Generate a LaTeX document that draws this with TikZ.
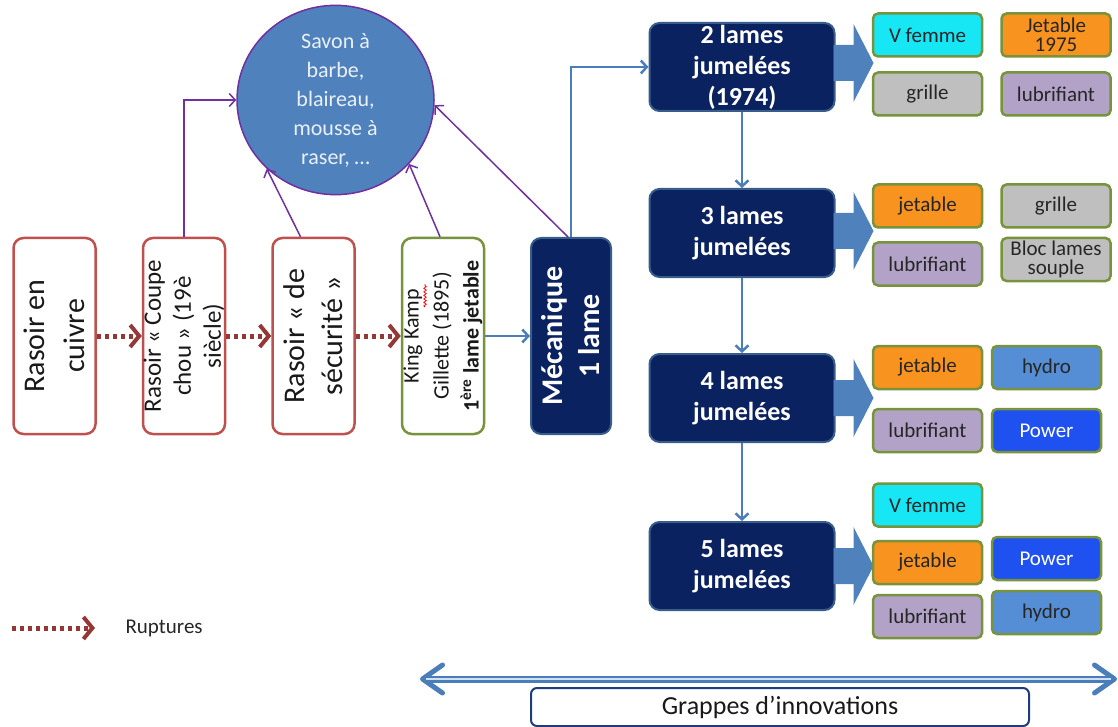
\documentclass[tikz,border=0pt]{standalone}
\usepackage{fontspec}
\setmainfont{Carlito}
\usetikzlibrary{arrows.meta,shapes.geometric,calc,decorations.pathmorphing}
\definecolor{cRed}{HTML}{C0504D}
\definecolor{cRupt}{HTML}{953735}
\definecolor{cGreen}{HTML}{77933C}
\definecolor{cNavy}{HTML}{0B2260}
\definecolor{cNavyB}{HTML}{385D8A}
\definecolor{cBlue}{HTML}{4F81BD}
\definecolor{cLine}{HTML}{4A7EBB}
\definecolor{cPurple}{HTML}{7030A0}
\definecolor{cCyan}{HTML}{17E6F5}
\definecolor{cOrange}{HTML}{F7931E}
\definecolor{cGray}{HTML}{BFBFBF}
\definecolor{cLav}{HTML}{B3A2C7}
\definecolor{cHydro}{HTML}{558ED5}
\definecolor{cPower}{HTML}{1F50F0}
\definecolor{cGrappe}{HTML}{1F3D7A}
\begin{document}
\begin{tikzpicture}[x=1pt,y=-1pt,
  vbox/.style={fill=white, rounded corners=10pt, line width=2.5pt, minimum width=82pt, minimum height=196pt, inner sep=0pt},
  redbox/.style={vbox, draw=cRed},
  greenbox/.style={vbox, draw=cGreen},
  navybox/.style={fill=cNavy, draw=cNavyB, line width=2pt, rounded corners=10pt, inner sep=0pt},
  lames/.style={navybox, minimum width=185pt, minimum height=88pt, text=white, font=\bfseries\fontsize{26}{31}\selectfont, align=center},
  vtext/.style={rotate=90, align=center, text=black!90},
  sbox/.style={draw=cGreen, line width=2.5pt, rounded corners=5pt, minimum width=109pt, minimum height=43pt, inner sep=1pt, font=\fontsize{21}{21}\selectfont, align=center, text=black!85},
  rupt/.style={draw=cRupt, line width=5pt, dash pattern=on 4pt off 4pt, -{Straight Barb[length=9pt,width=22pt,line width=4pt]}},
  barrow/.style={draw=cLine, line width=2.5pt, -{Straight Barb[length=6pt,width=13pt]}},
  parrow/.style={draw=cPurple, line width=1.5pt, -{Straight Barb[length=6pt,width=13pt]}},
  blk/.style={fill=cBlue}
]
\useasboundingbox (0,0) rectangle (1118,727);

% left chain of boxes
\node[redbox] (cuivre) at (54.5,336) {};
\node[vtext, font=\fontsize{30}{40}\selectfont] (cuivreT) at (cuivre.center) {Rasoir en\\cuivre};
\node[redbox] (coupe) at (184,336) {};
\node[vtext, font=\fontsize{25}{30}\selectfont] (coupeT) at (coupe.center) {Rasoir « Coupe\\chou » (19è\\siècle)};
\node[redbox] (secu) at (313.5,336) {};
\node[vtext, font=\fontsize{30}{38}\selectfont] (secuT) at (secu.center) {Rasoir « de\\sécurité »};
\node[greenbox] (gil) at (443,336) {};
\node[vtext, font=\fontsize{22}{30}\selectfont] (gilT) at (gil.center) {King Kamp\\Gillette (1895)\\\textbf{1\textsuperscript{ère} lame jetable}};
\draw[red, line width=0.8pt, decorate, decoration={snake, amplitude=1.2pt, segment length=3.5pt}] (425,307) -- (425,284);
\node[navybox, minimum width=80pt, minimum height=196pt] (mec) at (571,336) {};
\node[rotate=90, align=center, text=white, font=\bfseries\fontsize{30}{37}\selectfont] (mecT) at (mec.center) {Mécanique\\1 lame};

% ellipse
\node[ellipse, draw=cPurple, line width=1.5pt, fill=cBlue, minimum width=197pt, minimum height=176pt, inner sep=0pt,
  text=white!88!cBlue, align=center, font=\fontsize{22}{29}\selectfont] (ell) at (335.5,100) {Savon à\\barbe,\\blaireau,\\mousse à\\raser, \dots};

% ruptures
\draw[rupt] (cuivre.east) -- (coupe.west);
\draw[rupt] (coupe.east) -- (secu.west);
\draw[rupt] (secu.east) -- (gil.west);
\draw[barrow] (gil.east) -- (mec.west);

% purple arrows
\draw[parrow] (coupe.north) |- (ell.west);
\draw[parrow] ($(secu.north)+(-13,0)$) -- (ell.225);
\draw[parrow] ($(gil.north)+(-3,0)$) -- (ell.319);
\draw[parrow] ($(mec.north)+(-3,0)$) -- (ell.-3);

% lames boxes
\node[lames] (l2) at (742,67) {2 lames\\jumelées\\(1974)};
\node[lames] (l3) at (742,233) {3 lames\\jumelées};
\node[lames] (l4) at (742,398) {4 lames\\jumelées};
\node[lames] (l5) at (742,566) {5 lames\\jumelées};

\draw[barrow] (mec.north) |- (l2.west);
\draw[barrow] (l2.south) -- (l3.north);
\draw[barrow] (l3.south) -- (l4.north);
\draw[barrow] (l4.south) -- (l5.north);

% block arrows
\foreach \b/\dy in {l2/-4, l3/-2, l4/0, l5/0}{
  \fill[blk, shift={($(\b.east)+(-2,\dy)$)}] (0,-18) -- (20,-18) -- (20,-39) -- (40,0) -- (20,39) -- (20,18) -- (0,18) -- cycle;
}

% small boxes, 2 lames
\node[sbox, fill=cCyan] (a1) at (927.5,35) {V femme};
\node[sbox, fill=cOrange, font=\fontsize{21}{19}\selectfont] (a2) at (1056,35) {Jetable\\1975};
\node[sbox, fill=cGray] (a3) at (927.5,94) {grille};
\node[sbox, fill=cLav] (a4) at (1056,94) {lubrifiant};
% 3 lames
\node[sbox, fill=cOrange] (b1) at (927.5,206) {jetable};
\node[sbox, fill=cGray] (b2) at (1056,206) {grille};
\node[sbox, fill=cLav] (b3) at (927.5,264) {lubrifiant};
\node[sbox, fill=cGray, font=\fontsize{21}{19}\selectfont] (b4) at (1056,259.5) {Bloc lames\\souple};
% 4 lames
\node[sbox, fill=cOrange] (c1) at (927.5,367.5) {jetable};
\node[sbox, fill=cHydro] (c2) at (1046.5,367.5) {hydro};
\node[sbox, fill=cLav] (c3) at (927.5,430.5) {lubrifiant};
\node[sbox, fill=cPower, text=white] (c4) at (1046.5,430.5) {Power};
% 5 lames
\node[sbox, fill=cCyan] (d1) at (927.5,505) {V femme};
\node[sbox, fill=cOrange] (d2) at (927.5,562.5) {jetable};
\node[sbox, fill=cPower, text=white] (d3) at (1046.5,558.5) {Power};
\node[sbox, fill=cLav] (d4) at (927.5,616.5) {lubrifiant};
\node[sbox, fill=cHydro] (d5) at (1046.5,612.5) {hydro};

% legend
\coordinate (rs) at (12,628);
\coordinate (re) at (95,628);
\draw[rupt] (rs) -- (re);
\node[anchor=west, font=\fontsize{21}{21}\selectfont, text=black!85] (ruptT) at (122,628) {Ruptures};

% bottom double arrow
\coordinate (gl) at (420,679);
\coordinate (gr) at (1117,679);
\draw[draw=cLine, line width=7pt, {Straight Barb[length=20pt,width=28pt,line width=5pt,round]}-{Straight Barb[length=20pt,width=28pt,line width=5pt,round]}] (gl) -- (gr);
\draw[white!75!cLine, line width=2.5pt, shorten <=6pt, shorten >=6pt] (gl) -- (gr);
\node[draw=cGrappe, line width=2pt, rounded corners=6pt, fill=white, minimum width=498pt, minimum height=38pt,
  font=\fontsize{26}{26}\selectfont, text=black!90] (grappe) at (780,707) {Grappes d’innovations};
\end{tikzpicture}
\end{document}
